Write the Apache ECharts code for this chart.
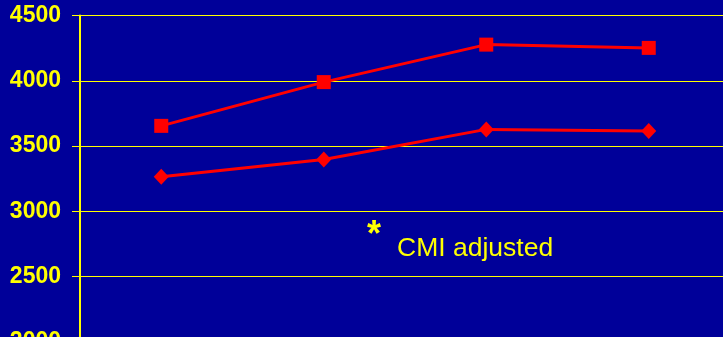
<!DOCTYPE html>
<html>
<head>
<meta charset="utf-8">
<script src="https://cdn.jsdelivr.net/npm/echarts@6/dist/echarts.min.js"></script>
<style>
html,body{margin:0;padding:0;background:#000099;}
#c{width:723px;height:337px;}
</style>
</head>
<body>
<div id="c"></div>
<script>
var categories = ['1', '2', '3', '4'];
var squareSeries = [3655, 3990, 4277, 4252];
var diamondSeries = [3265, 3398, 3628, 3615];
var yTicks = {min: 2000, max: 4500, interval: 500};

var chart = echarts.init(document.getElementById('c'), null, {renderer: 'canvas'});
chart.setOption({
  backgroundColor: '#000099',
  animation: false,
  grid: {left: 80, top: 15.5, width: 650, height: 326.5, containLabel: false, outerBoundsMode: 'none'},
  xAxis: {
    type: 'category',
    data: categories,
    boundaryGap: true,
    axisLine: {show: false},
    axisTick: {show: false},
    axisLabel: {show: false}
  },
  yAxis: {
    type: 'value',
    min: yTicks.min,
    max: yTicks.max,
    interval: yTicks.interval,
    axisLine: {show: true, lineStyle: {color: '#FFFF00', width: 2}},
    axisTick: {show: true, length: 8, lineStyle: {color: '#FFFF00', width: 1}},
    axisLabel: {color: '#FFFF00', fontFamily: 'Liberation Sans, Arial, sans-serif', fontWeight: 'bold', fontSize: 23, margin: 19,
      formatter: function (v) { return String(v); }},
    splitLine: {show: true, lineStyle: {color: '#FFFF00', width: 1}}
  },
  series: [
    {
      type: 'line',
      data: squareSeries,
      symbol: 'rect',
      symbolSize: 14,
      lineStyle: {color: '#FF0000', width: 3},
      itemStyle: {color: '#FF0000'}
    },
    {
      type: 'line',
      data: diamondSeries,
      symbol: 'diamond',
      symbolSize: [15, 16],
      lineStyle: {color: '#FF0000', width: 3},
      itemStyle: {color: '#FF0000'}
    }
  ],
  graphic: [
    {type: 'text', left: 367, top: 218, style: {text: '*', fill: '#FFFF00', font: 'bold 36px Liberation Sans, Arial, sans-serif'}},
    {type: 'text', left: 397, top: 235, style: {text: 'CMI adjusted', fill: '#FFFF00', font: '26.5px Liberation Sans, Arial, sans-serif'}}
  ]
});
</script>
</body>
</html>
